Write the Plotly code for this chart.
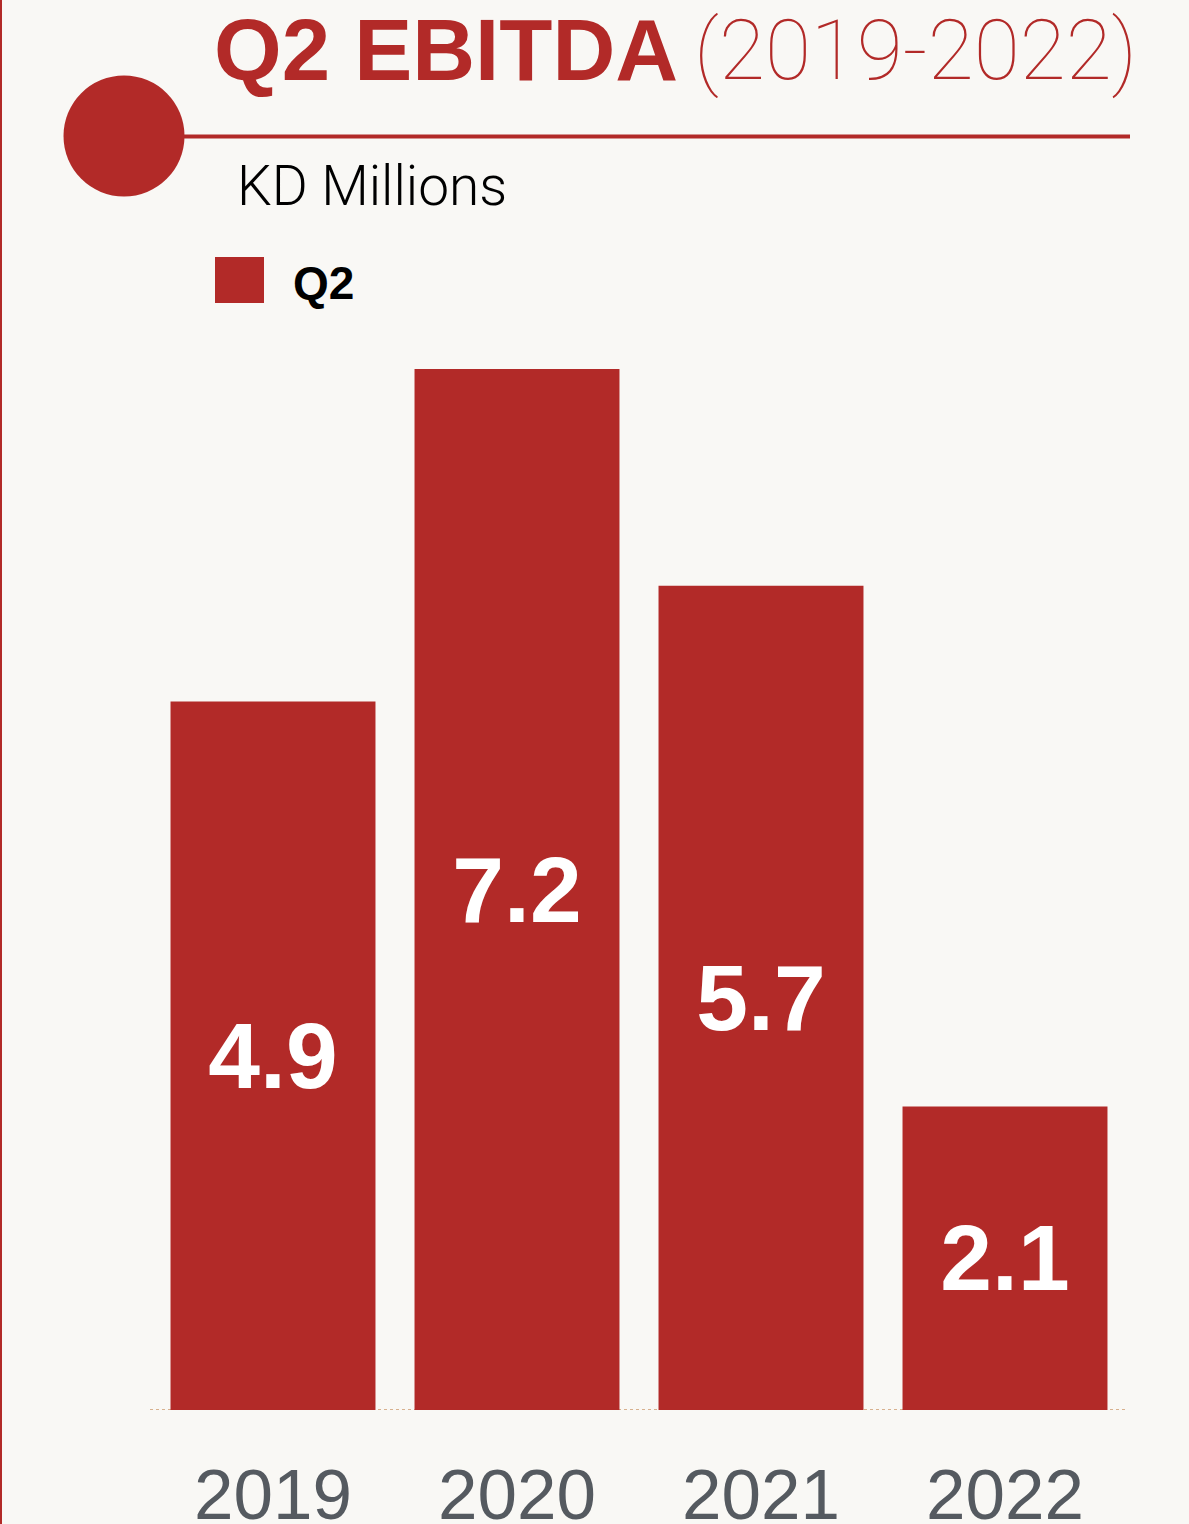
import plotly.graph_objects as go

# Quarterly EBITDA, KD millions
years = ["2019", "2020", "2021", "2022"]
ebitda_q2 = [4.9, 7.2, 5.7, 2.1]
series_name = "Q2"

RED = "#b22a28"
BG = "#f9f8f5"
W, H = 1189, 1524
L, R, T, B = 151, 62, 369, 114
PW, PH = W - L - R, H - T - B


def px_x(px):
    return (px - L) / PW


def px_y(py):
    return (H - B - py) / PH


fig = go.Figure(
    go.Bar(
        x=years,
        y=ebitda_q2,
        name=series_name,
        marker=dict(color=RED, line=dict(width=0)),
        texttemplate="%{y:.1f}",
        textposition="inside",
        insidetextanchor="middle",
        textfont=dict(family="Liberation Sans", size=93, color="white", weight="bold"),
        showlegend=False,
    )
)

shapes = [
    # thin red rule down the left edge
    dict(type="line", xref="paper", yref="paper", x0=px_x(1), x1=px_x(1),
         y0=px_y(0), y1=px_y(H), line=dict(color=RED, width=2)),
    # header dot and rule
    dict(type="circle", xref="paper", yref="paper",
         x0=px_x(63.5), x1=px_x(184.5), y0=px_y(196.5), y1=px_y(75.5),
         fillcolor=RED, line=dict(width=0)),
    dict(type="line", xref="paper", yref="paper",
         x0=px_x(184), x1=px_x(1130), y0=px_y(136.5), y1=px_y(136.5),
         line=dict(color=RED, width=4)),
    # legend swatch
    dict(type="rect", xref="paper", yref="paper",
         x0=px_x(215), x1=px_x(264), y0=px_y(303), y1=px_y(257),
         fillcolor=RED, line=dict(width=0)),
    # dotted baseline
    dict(type="line", xref="paper", yref="y", layer="below",
         x0=px_x(150), x1=px_x(1125), y0=0, y1=0,
         line=dict(color="#d7b18f", width=2, dash="dot")),
]

annotations = [
    dict(text="<b>Q2 EBITDA</b>", x=px_x(212), y=px_y(49), xanchor="left", yanchor="middle",
         font=dict(family="Liberation Sans", size=87, color=RED)),
    dict(text="(2019-2022)", x=px_x(692), y=px_y(50), xanchor="left", yanchor="middle",
         font=dict(family="Roboto", size=84, color=RED, weight=100)),
    dict(text="KD Millions", x=px_x(235), y=px_y(185.5), xanchor="left", yanchor="middle",
         font=dict(family="Roboto", size=55, color="black", weight=300)),
    dict(text="<b>" + series_name + "</b>", x=px_x(291), y=px_y(282.5), xanchor="left",
         yanchor="middle", font=dict(family="Liberation Sans", size=46, color="black")),
]
for a in annotations:
    a.update(xref="paper", yref="paper", showarrow=False)

fig.update_layout(
    width=W, height=H, autosize=False,
    margin=dict(l=L, r=R, t=T, b=B, pad=0, autoexpand=False),
    paper_bgcolor=BG, plot_bgcolor=BG,
    bargap=0.16,
    shapes=shapes,
    annotations=annotations,
    xaxis=dict(type="category", showgrid=False, zeroline=False, showline=False, ticks="",
               automargin=False,
               tickfont=dict(family="Liberation Sans", size=71, color="#555a60"),
               ticklabelstandoff=37, range=[-0.5, 3.5]),
    yaxis=dict(range=[0, 7.2], visible=False, showgrid=False, zeroline=False,
               automargin=False),
)

fig.write_html("out.html")
